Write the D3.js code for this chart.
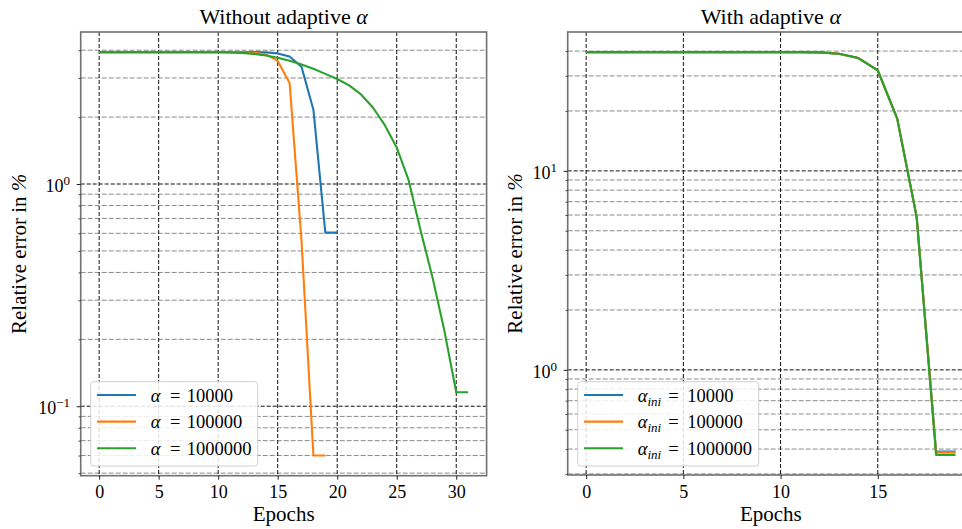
<!DOCTYPE html>
<html>
<head>
<meta charset="utf-8">
<script src="https://cdn.jsdelivr.net/npm/d3@7"></script>
<style>
  html, body { margin: 0; padding: 0; background: #fff; }
  svg { display: block; }
  svg text { font-family: "Liberation Serif", "Times New Roman", serif; fill: #000; }
</style>
</head>
<body>
<svg id="chart" width="962" height="529"></svg>
<script>
// ---- data: relative error (%) per epoch, index = epoch ----
const seriesNames = ["10000", "100000", "1000000"];
const seriesColors = ["#1f77b4", "#ff7f0e", "#2ca02c"];

// fixed penalty alpha
const fixedAlpha10k = [3.92, 3.92, 3.92, 3.92, 3.92, 3.92, 3.92, 3.92, 3.92, 3.92,
  3.92, 3.92, 3.92, 3.92, 3.91, 3.87, 3.75, 3.37, 2.16, 0.604, 0.604];
const fixedAlpha100k = [3.92, 3.92, 3.92, 3.92, 3.92, 3.92, 3.92, 3.92, 3.92, 3.92,
  3.92, 3.92, 3.91, 3.89, 3.83, 3.58, 2.85, 0.557, 0.060, 0.060];
const fixedAlpha1M = [3.92, 3.92, 3.92, 3.92, 3.92, 3.92, 3.92, 3.92, 3.92, 3.92,
  3.92, 3.91, 3.89, 3.85, 3.79, 3.70, 3.59, 3.45, 3.30, 3.13,
  2.97, 2.78, 2.53, 2.21, 1.84, 1.46, 1.04, 0.619, 0.381, 0.219,
  0.1156, 0.1156];

// adaptive alpha, by initial value
const adaptiveAlpha10k = [39.5, 39.5, 39.5, 39.5, 39.5, 39.5, 39.5, 39.5, 39.5, 39.5,
  39.5, 39.5, 39.4, 38.8, 36.9, 32.0, 18.3, 5.87, 0.389, 0.389];
const adaptiveAlpha100k = [39.5, 39.5, 39.5, 39.5, 39.5, 39.5, 39.5, 39.5, 39.5, 39.5,
  39.5, 39.5, 39.4, 38.8, 36.9, 32.0, 18.3, 5.87, 0.385, 0.385];
const adaptiveAlpha1M = [39.5, 39.5, 39.5, 39.5, 39.5, 39.5, 39.5, 39.5, 39.5, 39.5,
  39.5, 39.5, 39.4, 38.8, 36.9, 32.0, 18.3, 5.87, 0.374, 0.374];

const xTickValues = [0, 5, 10, 15, 20, 25, 30];
const leftYMajor = [0.1, 1];
const rightYMajor = [1, 10];

// ---- layout ----
const panels = [
  {
    title: "Without adaptive ", sub: null,
    box: { left: 80.7, right: 486.6, top: 32, bottom: 475.7 },
    series: [fixedAlpha10k, fixedAlpha100k, fixedAlpha1M],
    yMajor: leftYMajor,
    legend: { x: 90.7, y: 381.7, w: 167, h: 84.3, eqX: 79.3, numX: 96 },
    ylabelX: 26
  },
  {
    title: "With adaptive ", sub: "ini",
    box: { left: 567.7, right: 974, top: 32, bottom: 475 },
    series: [adaptiveAlpha10k, adaptiveAlpha100k, adaptiveAlpha1M],
    yMajor: rightYMajor,
    legend: { x: 577.7, y: 381.7, w: 181, h: 84.3, eqX: 90.6, numX: 109.6 },
    ylabelX: 522
  }
];

const svg = d3.select("#chart");

// "10^k" tick label with a raised exponent
function supLabel(sel, v) {
  const e = Math.round(Math.log10(v));
  sel.text("10");
  sel.append("tspan")
    .attr("dy", -7.3)
    .attr("font-size", 13)
    .text(e < 0 ? "\u2212" + (-e) : String(e));
}

panels.forEach(p => {
  const b = p.box;
  const g = svg.append("g");

  // x domain: data extent with 5% margins
  const n = d3.max(p.series, s => s.length) - 1;
  const xm = n * 0.05;
  const x = d3.scaleLinear().domain([-xm, n + xm]).range([b.left, b.right]);

  // y domain: log extent with 5% margins in log space
  const all = p.series.flat();
  const lmin = Math.log10(d3.min(all)), lmax = Math.log10(d3.max(all));
  const lm = (lmax - lmin) * 0.05;
  const y = d3.scaleLog().domain([10 ** (lmin - lm), 10 ** (lmax + lm)]).range([b.bottom, b.top]);

  const [d0, d1] = y.domain();
  const minor = [];
  for (let k = Math.floor(Math.log10(d0)); k <= Math.ceil(Math.log10(d1)); k++) {
    for (let m = 2; m <= 9; m++) {
      const v = m * 10 ** k;
      if (v >= d0 && v <= d1) minor.push(v);
    }
  }
  const xt = xTickValues.filter(v => v >= x.domain()[0] && v <= x.domain()[1]);

  // grid
  const grid = g.append("g");
  grid.selectAll("line.minor").data(minor).join("line")
    .attr("x1", b.left).attr("x2", b.right)
    .attr("y1", d => y(d)).attr("y2", d => y(d))
    .attr("stroke", "#8a8a8a").attr("stroke-width", 1)
    .attr("stroke-dasharray", "5,2");
  grid.selectAll("line.major").data(p.yMajor).join("line")
    .attr("x1", b.left).attr("x2", b.right)
    .attr("y1", d => y(d)).attr("y2", d => y(d))
    .attr("stroke", "#111").attr("stroke-width", 1)
    .attr("stroke-dasharray", "4,2");
  grid.selectAll("line.vx").data(xt).join("line")
    .attr("x1", d => x(d)).attr("x2", d => x(d))
    .attr("y1", b.top).attr("y2", b.bottom)
    .attr("stroke", "#111").attr("stroke-width", 1)
    .attr("stroke-dasharray", "4,2");

  // lines
  const line = d3.line().x((d, i) => x(i)).y(d => y(d));
  p.series.forEach((s, i) => {
    g.append("path").datum(s)
      .attr("d", line)
      .attr("fill", "none")
      .attr("stroke", seriesColors[i])
      .attr("stroke-width", 2.1)
      .attr("stroke-linejoin", "round");
  });

  // spines
  g.append("rect")
    .attr("x", b.left).attr("y", b.top)
    .attr("width", b.right - b.left).attr("height", b.bottom - b.top)
    .attr("fill", "none").attr("stroke", "#707070").attr("stroke-width", 1.6);

  // x axis ticks
  const xAxis = g.append("g").attr("transform", `translate(0,${b.bottom})`)
    .call(d3.axisBottom(x).tickValues(xt).tickSize(4).tickPadding(5.8).tickFormat(d3.format("d")));
  xAxis.select(".domain").remove();
  xAxis.attr("font-family", null).attr("font-size", 18);
  xAxis.selectAll(".tick line").attr("stroke", "#222").attr("stroke-width", 1);
  xAxis.selectAll(".tick text").attr("dy", "0.71em");

  // y axis ticks
  const yMinorAxis = g.append("g").attr("transform", `translate(${b.left},0)`)
    .call(d3.axisLeft(y).tickValues(minor).tickSize(2.2).tickFormat(""));
  yMinorAxis.select(".domain").remove();
  yMinorAxis.selectAll(".tick line").attr("stroke", "#222").attr("stroke-width", 0.8);

  const yAxis = g.append("g").attr("transform", `translate(${b.left},0)`)
    .call(d3.axisLeft(y).tickValues(p.yMajor).tickSize(4).tickPadding(6.7).tickFormat(""));
  yAxis.select(".domain").remove();
  yAxis.attr("font-family", null).attr("font-size", 18);
  yAxis.selectAll(".tick line").attr("stroke", "#222").attr("stroke-width", 1);
  yAxis.selectAll(".tick text")
    .attr("dy", 7.6)
    .each(function (d) { supLabel(d3.select(this), d); });

  // title
  const cx = (b.left + b.right) / 2;
  const t = g.append("text").attr("x", cx).attr("y", 24)
    .attr("text-anchor", "middle").attr("font-size", 22).text(p.title);
  t.append("tspan").attr("font-style", "italic").text("\u03b1");

  // axis labels
  g.append("text").attr("x", cx).attr("y", 520.5)
    .attr("text-anchor", "middle").attr("font-size", 21).text("Epochs");
  const yl = g.append("text")
    .attr("transform", `translate(${p.ylabelX},${(b.top + b.bottom) / 2}) rotate(-90)`)
    .attr("text-anchor", "middle").attr("font-size", 21).text("Relative error in ");
  yl.append("tspan").attr("font-style", "italic").text("%");

  // legend
  const L = p.legend;
  const lg = g.append("g");
  lg.append("rect").attr("x", L.x).attr("y", L.y).attr("width", L.w).attr("height", L.h)
    .attr("rx", 3).attr("fill", "#fff").attr("fill-opacity", 0.85)
    .attr("stroke", "#d0d0d0").attr("stroke-width", 1);
  seriesNames.forEach((name, i) => {
    const ly = L.y + 13.3 + i * 26.6;
    lg.append("line").attr("x1", L.x + 6.3).attr("x2", L.x + 45.3)
      .attr("y1", ly).attr("y2", ly)
      .attr("stroke", seriesColors[i]).attr("stroke-width", 2.1);
    const base = ly + 6.5;
    const tx = lg.append("text").attr("font-size", 18.5);
    tx.append("tspan").attr("x", L.x + 60).attr("y", base)
      .attr("font-style", "italic").text("\u03b1");
    if (p.sub) {
      tx.append("tspan").attr("y", base + 4).attr("font-style", "italic")
        .attr("font-size", 13).text(p.sub);
    }
    tx.append("tspan").attr("x", L.x + L.eqX).attr("y", base).text("=");
    tx.append("tspan").attr("x", L.x + L.numX).attr("y", base).text(name);
  });
});
</script>
</body>
</html>
